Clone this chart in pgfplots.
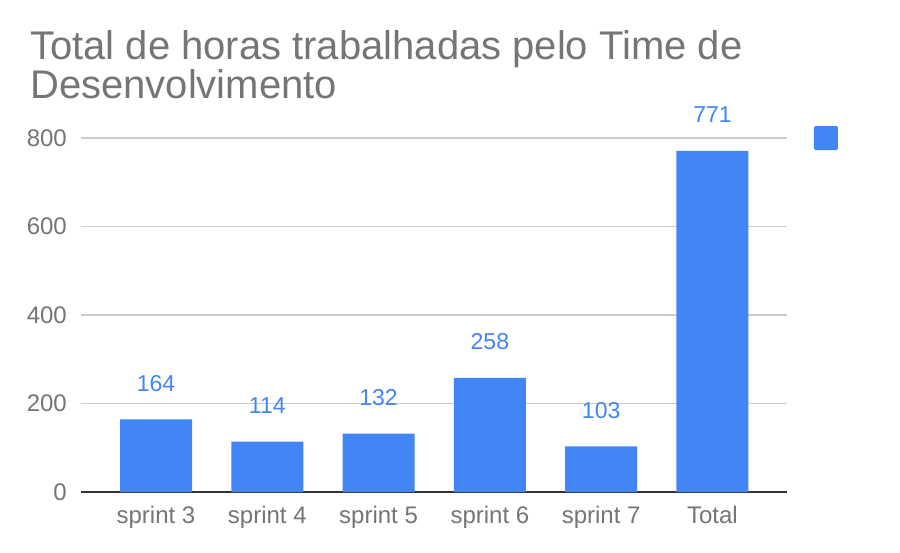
\documentclass[border=0pt]{standalone}
\usepackage{fontspec}
\setmainfont{Liberation Sans}
\usepackage{pgfplots}
\pgfplotsset{compat=1.18}
\definecolor{barblue}{HTML}{4285F4}
\definecolor{txtgray}{HTML}{757575}
\definecolor{gridgray}{HTML}{CCCCCC}
\definecolor{zerol}{HTML}{333333}
\begin{document}
\begin{tikzpicture}
\useasboundingbox (0,0) rectangle (900pt,552pt);
\node[anchor=base west, inner sep=0pt, text=txtgray, font=\fontsize{40}{40}\selectfont] at (30pt,492pt) {Total de horas trabalhadas pelo Time de};
\node[anchor=base west, inner sep=0pt, text=txtgray, font=\fontsize{40}{40}\selectfont] at (30pt,453pt) {Desenvolvimento};
\begin{axis}[
  at={(81pt,60pt)}, anchor=south west,
  scale only axis, width=706pt, height=354pt,
  xmin=-0.674, xmax=5.67, ymin=0, ymax=800,
  ybar, bar width=72pt, bar shift=0pt,
  clip=false,
  axis line style={draw=none},
  major tick length=0pt,
  ytick={0,200,400,600,800},
  ymajorgrids, grid style={draw=gridgray, line width=1.5pt},
  extra y ticks={0}, extra y tick labels={},
  extra y tick style={grid style={draw=zerol, line width=2pt}},
  xtick={0,1,2,3,4,5},
  xticklabels={sprint 3,sprint 4,sprint 5,sprint 6,sprint 7,Total},
  /pgf/number format/assume math mode=true,
  ticklabel style={font=\fontsize{24}{24}\selectfont, text=txtgray},
  yticklabel style={inner sep=0pt, anchor=east, xshift=-14pt},
  xticklabel style={inner sep=0pt, anchor=base, yshift=-31pt},
  nodes near coords,
  every node near coord/.append style={font=\fontsize{23}{23}\selectfont, text=barblue, anchor=base, inner sep=0pt, yshift=28pt},
  legend style={draw=none, fill=none, inner sep=0pt, outer sep=0pt, at={(axis description cs:1.0382,1)}, anchor=west, nodes={inner sep=0pt}},
  legend image code/.code={\fill[barblue, rounded corners=2pt] (0pt,-12pt) rectangle (24pt,12pt);},
]
\addplot[fill=barblue, draw=none] coordinates {(0,164) (1,114) (2,132) (3,258) (4,103) (5,771)};
\addlegendentry{}
\end{axis}
\end{tikzpicture}
\end{document}
